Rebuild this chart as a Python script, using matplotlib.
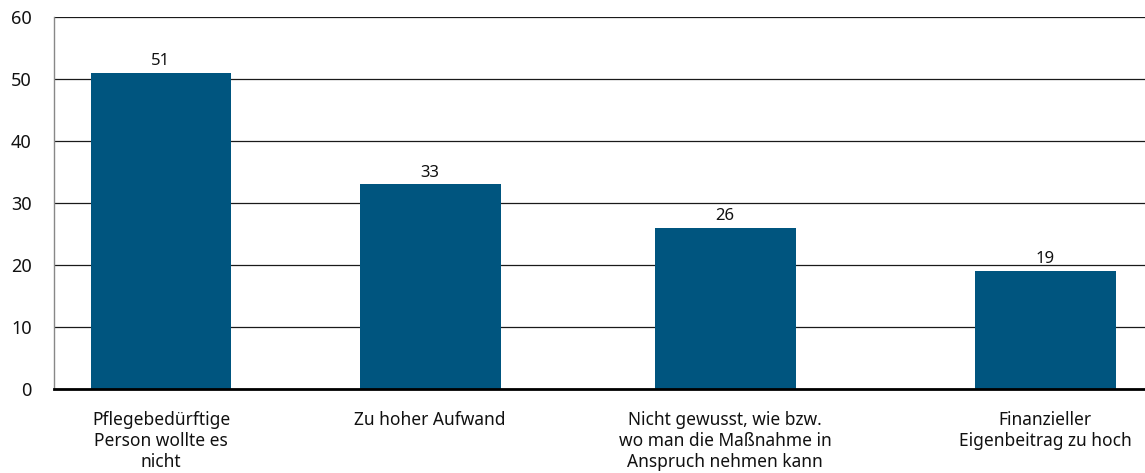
import matplotlib
matplotlib.use("Agg")
import matplotlib.pyplot as plt

categories = [
    "Pflegebedürftige\nPerson wollte es\nnicht",
    "Zu hoher Aufwand",
    "Nicht gewusst, wie bzw.\nwo man die Maßnahme in\nAnspruch nehmen kann",
    "Finanzieller\nEigenbeitrag zu hoch",
]
values = [51, 33, 26, 19]
yticks = [0, 10, 20, 30, 40, 50, 60]

# layout: bar slot centres (uneven in the original), bar width
slot_pos = [1.07, 3.76, 6.71, 9.91]
bar_width = 1.41
bar_color = "#00557f"

plt.rcParams["font.family"] = ["Noto Sans", "DejaVu Sans"]

fig = plt.figure(figsize=(11.45, 4.73), dpi=100)
ax = fig.add_axes([54 / 1145, 1 - 389 / 473, 1 - 54 / 1145, (389 - 17) / 473])

bars = ax.bar(slot_pos, values, width=bar_width, color=bar_color, zorder=3)
for b, v in zip(bars, values):
    ax.text(b.get_x() + b.get_width() / 2, v + 0.6, str(v),
            ha="center", va="bottom", fontsize=12, color="#111111")

ax.set_xlim(0, 10.91)
ax.set_ylim(0, 60)
ax.set_yticks(yticks)
ax.set_yticklabels([str(t) for t in yticks], fontsize=13, color="#111111")
ax.set_xticks(slot_pos)
ax.set_xticklabels(categories, fontsize=12.5, color="#111111", linespacing=1.2)
ax.tick_params(axis="y", length=0, pad=16)
ax.tick_params(axis="x", length=0, pad=16)

ax.grid(axis="y", color="#1a1a1a", linewidth=0.9, zorder=0)
ax.set_axisbelow(True)
for s in ["top", "right"]:
    ax.spines[s].set_visible(False)
ax.spines["left"].set_color("#888888")
ax.spines["left"].set_linewidth(1.0)
ax.spines["bottom"].set_color("#000000")
ax.spines["bottom"].set_linewidth(2.0)
ax.spines["bottom"].set_zorder(4)

fig.savefig("out.png", dpi=100)
